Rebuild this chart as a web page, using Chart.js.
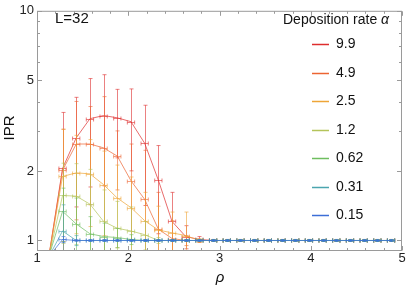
<!DOCTYPE html>
<html>
<head>
<meta charset="utf-8">
<style>
  html, body { margin: 0; padding: 0; background: #fff; }
  #wrap { width: 407px; height: 291px; }
</style>
</head>
<body>
<div id="wrap"><canvas id="chart" width="407" height="291"></canvas></div>
<script src="https://cdn.jsdelivr.net/npm/chart.js@4"></script>
<script>
// density rho (x) shared by every series
const rho = [1.13, 1.28, 1.43, 1.58, 1.73, 1.88, 2.03, 2.18, 2.33, 2.48, 2.63, 2.78, 2.93,
             3.08, 3.23, 3.38, 3.53, 3.68, 3.83, 3.98, 4.13, 4.28, 4.43, 4.58, 4.73, 4.88];

const rates = ["9.9", "4.9", "2.5", "1.2", "0.62", "0.31", "0.15"];
const colors = ["#de2d2d", "#ec6432", "#eea537", "#b4c45a", "#6ebe5f", "#4ba5af", "#3c6ed7"];

// IPR per deposition rate, with error bars
const ipr99 = [0.85, 2.06, 2.80, 3.39, 3.50, 3.42, 3.29, 2.65, 1.83, 1.21, 1.04, 1.01, 1,
               1, 1, 1, 1, 1, 1, 1, 1, 1, 1, 1, 1, 1];
const err99 = [0.05, 1.55, 1.40, 1.68, 1.77, 1.13, 1.28, 1.23, 0.76, 0.41, 0.12, 0.03, 0.01,
               0.01, 0.01, 0.01, 0.01, 0.01, 0.01, 0.01, 0.01, 0.01, 0.01, 0.01, 0.01, 0.01];
const ipr49 = [0.85, 2.02, 2.63, 2.63, 2.53, 2.33, 1.82, 1.51, 1.12, 1.02, 1.00, 1.00, 1,
               1, 1, 1, 1, 1, 1, 1, 1, 1, 1, 1, 1, 1];
const err49 = [0.05, 1.03, 1.40, 1.20, 1.70, 0.67, 0.81, 0.96, 0.50, 0.20, 0.05, 0.01, 0.01,
               0.01, 0.01, 0.01, 0.01, 0.01, 0.01, 0.01, 0.01, 0.01, 0.01, 0.01, 0.01, 0.01];
const ipr25 = [0.85, 1.90, 1.97, 1.95, 1.75, 1.53, 1.39, 1.22, 1.11, 1.08, 1.05, 1.00, 1,
               1, 1, 1, 1, 1, 1, 1, 1, 1, 1, 1, 1, 1];
const err25 = [0.05, 1.15, 0.90, 0.80, 0.70, 0.60, 0.50, 0.40, 0.30, 0.25, 0.28, 0.02, 0.01,
               0.01, 0.01, 0.01, 0.01, 0.01, 0.01, 0.01, 0.01, 0.01, 0.01, 0.01, 0.01, 0.01];
const ipr12 = [0.85, 1.57, 1.56, 1.44, 1.21, 1.13, 1.10, 1.06, 1.00, 1.00, 1, 1, 1,
               1, 1, 1, 1, 1, 1, 1, 1, 1, 1, 1, 1, 1];
const err12 = [0.05, 0.60, 0.60, 0.60, 0.45, 0.35, 0.30, 0.15, 0.03, 0.01, 0.01, 0.01, 0.01,
               0.01, 0.01, 0.01, 0.01, 0.01, 0.01, 0.01, 0.01, 0.01, 0.01, 0.01, 0.01, 0.01];
const ipr062 = [0.85, 1.34, 1.18, 1.07, 1.04, 1.03, 1.01, 1, 1, 1, 1, 1, 1,
                1, 1, 1, 1, 1, 1, 1, 1, 1, 1, 1, 1, 1];
const err062 = [0.05, 0.35, 0.35, 0.20, 0.15, 0.10, 0.05, 0.01, 0.01, 0.01, 0.01, 0.01, 0.01,
                0.01, 0.01, 0.01, 0.01, 0.01, 0.01, 0.01, 0.01, 0.01, 0.01, 0.01, 0.01, 0.01];
const ipr031 = [0.85, 1.10, 1, 1, 1, 1, 1, 1, 1, 1, 1, 1, 1,
                1, 1, 1, 1, 1, 1, 1, 1, 1, 1, 1, 1, 1];
const err031 = [0.05, 0.33, 0.05, 0.01, 0.01, 0.01, 0.01, 0.01, 0.01, 0.01, 0.01, 0.01, 0.01,
                0.01, 0.01, 0.01, 0.01, 0.01, 0.01, 0.01, 0.01, 0.01, 0.01, 0.01, 0.01, 0.01];
const ipr015 = [0.85, 1.01, 1, 1, 1, 1, 1, 1, 1, 1, 1, 1, 1,
                1, 1, 1, 1, 1, 1, 1, 1, 1, 1, 1, 1, 1];
const err015 = [0.05, 0.03, 0.01, 0.01, 0.01, 0.01, 0.01, 0.01, 0.01, 0.01, 0.01, 0.01, 0.01,
                0.01, 0.01, 0.01, 0.01, 0.01, 0.01, 0.01, 0.01, 0.01, 0.01, 0.01, 0.01, 0.01];

const series = [ipr99, ipr49, ipr25, ipr12, ipr062, ipr031, ipr015];
const errors = [err99, err49, err25, err12, err062, err031, err015];
const rhoErr = 0.04;

const xTickLabels = [1, 2, 3, 4, 5];
const yTickLabels = [1, 2, 5, 10];

const FONT = "'Liberation Sans', Arial, sans-serif";

function fade(hex, a) {
  const n = parseInt(hex.slice(1), 16);
  return `rgba(${n >> 16},${(n >> 8) & 255},${n & 255},${a})`;
}

// error bars, drawn right after each series so stacking follows the lines
const errorBars = {
  id: "errorBars",
  afterDatasetDraw(chart, args) {
    const { ctx, chartArea: a, scales: { x, y } } = chart;
    const i = args.index;
    const vals = series[i], errs = errors[i];
    ctx.save();
    ctx.beginPath();
    ctx.rect(a.left, a.top, a.right - a.left, a.bottom - a.top);
    ctx.clip();
    ctx.strokeStyle = fade(colors[i], 0.6);
    ctx.lineWidth = 1;
    rho.forEach((r, k) => {
      const px = Math.round(x.getPixelForValue(r)) + 0.5;
      const py = Math.round(y.getPixelForValue(vals[k])) + 0.5;
      const top = y.getPixelForValue(vals[k] + errs[k]);
      const lo = vals[k] - errs[k];
      const bot = lo > 0.5 ? y.getPixelForValue(lo) : a.bottom + 20;
      const xl = x.getPixelForValue(r - rhoErr), xr = x.getPixelForValue(r + rhoErr);
      ctx.beginPath();
      ctx.moveTo(px, top); ctx.lineTo(px, bot);
      ctx.moveTo(px - 2, top); ctx.lineTo(px + 2, top);
      ctx.moveTo(px - 2, bot); ctx.lineTo(px + 2, bot);
      ctx.moveTo(xl, py); ctx.lineTo(xr, py);
      ctx.moveTo(xl, py - 2); ctx.lineTo(xl, py + 2);
      ctx.moveTo(xr, py - 2); ctx.lineTo(xr, py + 2);
      ctx.stroke();
    });
    ctx.restore();
  }
};

// frame with inward ticks, titles, and the legend
const frame = {
  id: "frame",
  afterDraw(chart) {
    const { ctx, chartArea: a, scales: { x, y } } = chart;
    ctx.save();
    ctx.strokeStyle = "#9a9a9a";
    ctx.lineWidth = 1;
    const L = a.left + 0.5, R = a.right - 0.5, T = a.top + 0.5, B = a.bottom - 0.5;
    ctx.strokeRect(L, T, R - L, B - T);

    ctx.beginPath();
    for (let k = 0; k <= 20; k++) {
      const v = 1 + k * 0.2;
      const major = xTickLabels.some(t => Math.abs(t - v) < 1e-6);
      const len = major ? 4.5 : 2.5;
      const px = Math.round(x.getPixelForValue(v)) + 0.5;
      ctx.moveTo(px, B); ctx.lineTo(px, B - len);
      ctx.moveTo(px, T); ctx.lineTo(px, T + len);
    }
    for (let v = 1; v <= 10; v++) {
      const major = yTickLabels.includes(v);
      const len = major ? 4.5 : 2.5;
      const py = Math.round(y.getPixelForValue(v)) + 0.5;
      ctx.moveTo(L, py); ctx.lineTo(L + len, py);
      ctx.moveTo(R, py); ctx.lineTo(R - len, py);
    }
    ctx.stroke();

    ctx.fillStyle = "#111";
    ctx.textBaseline = "middle";
    ctx.font = `15px ${FONT}`;
    ctx.textAlign = "left";
    ctx.fillText("L=32", 55, 19);

    ctx.save();
    ctx.translate(10, 128);
    ctx.rotate(-Math.PI / 2);
    ctx.textAlign = "center";
    ctx.fillText("IPR", 0, 0);
    ctx.restore();

    ctx.textAlign = "center";
    ctx.font = `italic 15px ${FONT}`;
    ctx.fillText("ρ", 220, 278);

    // legend
    ctx.textAlign = "left";
    ctx.font = `14px ${FONT}`;
    const title = "Deposition rate ";
    ctx.fillText(title, 283, 20);
    const tw = ctx.measureText(title).width;
    ctx.font = `italic 14px ${FONT}`;
    ctx.fillText("α", 283 + tw, 20);

    ctx.font = `14px ${FONT}`;
    rates.forEach((r, i) => {
      const ly = Math.round(44 + 28.5 * i) + 0.5;
      ctx.strokeStyle = colors[i];
      ctx.lineWidth = 1.5;
      ctx.beginPath();
      ctx.moveTo(312, ly); ctx.lineTo(329, ly);
      ctx.stroke();
      ctx.fillText(r, 336, ly);
    });
    ctx.restore();
  }
};

const datasets = rates.map((r, i) => ({
  label: r,
  data: rho.map((v, k) => ({ x: v, y: series[i][k] })),
  borderColor: fade(colors[i], 0.7),
  borderWidth: 1,
  pointRadius: 0,
  tension: 0,
  fill: false,
  order: rates.length - 1 - i
}));

new Chart(document.getElementById("chart"), {
  type: "line",
  data: { datasets: datasets },
  options: {
    responsive: false,
    animation: false,
    devicePixelRatio: 1,
    layout: { padding: { top: 6, right: 5, left: 0, bottom: 0 } },
    plugins: {
      legend: { display: false },
      tooltip: { enabled: false }
    },
    scales: {
      x: {
        type: "linear",
        min: 1,
        max: 5,
        afterBuildTicks: s => { s.ticks = xTickLabels.map(v => ({ value: v })); },
        afterFit: s => { s.height = 40; },
        grid: { display: false, drawTicks: false },
        border: { display: false },
        ticks: {
          color: "#222",
          padding: 0,
          maxRotation: 0,
          font: { family: FONT, size: 13 },
          callback: v => String(v)
        }
      },
      y: {
        type: "logarithmic",
        min: 0.9,
        max: 10,
        afterBuildTicks: s => { s.ticks = yTickLabels.map(v => ({ value: v })); },
        afterFit: s => { s.width = 37; },
        grid: { display: false, drawTicks: false },
        border: { display: false },
        ticks: {
          color: "#222",
          padding: 3,
          font: { family: FONT, size: 13 },
          callback: v => String(v)
        }
      }
    }
  },
  plugins: [errorBars, frame]
});
</script>
</body>
</html>
